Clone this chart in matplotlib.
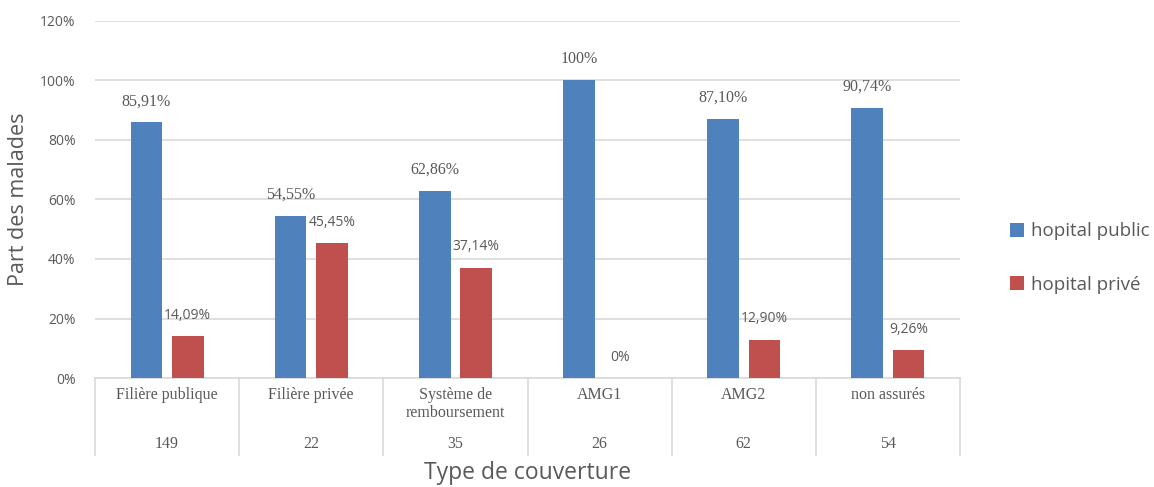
import matplotlib
matplotlib.use("Agg")
import matplotlib.pyplot as plt
import matplotlib.transforms as mtransforms
import numpy as np

categories = ["Filière publique", "Filière privée", "Système de\nremboursement", "AMG1", "AMG2", "non assurés"]
counts = ["149", "22", "35", "26", "62", "54"]
public = [85.91, 54.55, 62.86, 100.0, 87.10, 90.74]
prive = [14.09, 45.45, 37.14, 0.0, 12.90, 9.26]
public_labels = ["85,91%", "54,55%", "62,86%", "100%", "87,10%", "90,74%"]
prive_labels = ["14,09%", "45,45%", "37,14%", "0%", "12,90%", "9,26%"]
series_names = ["hopital public", "hopital privé"]
yticks = [0, 20, 40, 60, 80, 100, 120]

BLUE = "#4F81BD"
RED = "#C0504D"
GRAY = "#595959"
GRID = "#D9D9D9"

fig = plt.figure(figsize=(11.54, 4.87), dpi=100)
ax = fig.add_axes([95/1154, 1-378/487, (960-95)/1154, (378-21)/487])

x = np.arange(len(categories))
w = 0.22
off = 0.143
b1 = ax.bar(x - off, public, w, color=BLUE, label=series_names[0], zorder=3)
b2 = ax.bar(x + off, prive, w, color=RED, label=series_names[1], zorder=3)

for xi, v, lab in zip(x, public, public_labels):
    ax.annotate(lab, (xi - off, v), xytext=(0, 9.5), textcoords="offset points",
                ha="center", va="bottom", fontsize=11.5, color=GRAY,
                family="Liberation Serif")
for xi, v, lab in zip(x, prive, prive_labels):
    ax.annotate(lab, (xi + off, v), xytext=(0, 9.5), textcoords="offset points",
                ha="center", va="bottom", fontsize=10, color=GRAY,
                family="Open Sans")

ax.set_xlim(-0.5, len(categories) - 0.5)
ax.set_ylim(0, 120)
ax.set_yticks(yticks)
ax.set_yticklabels([f"{t}%" for t in yticks], fontsize=10, color=GRAY, family="Open Sans")
ax.yaxis.grid(True, color=GRID, linewidth=1.2, zorder=0)
ax.tick_params(axis="y", length=0, pad=14)
ax.tick_params(axis="x", length=0)
ax.set_xticks([])
for s in ["top", "right", "left"]:
    ax.spines[s].set_visible(False)
ax.spines["bottom"].set_color(GRID)
ax.spines["bottom"].set_linewidth(1.2)

# category table below
trans = mtransforms.blended_transform_factory(ax.transData, ax.transAxes)
ax_h = 378 - 21
for b in np.arange(len(categories) + 1) - 0.5:
    ax.plot([b, b], [0, -77/ax_h], transform=trans, color=GRID, lw=1.2, clip_on=False)
for xi, c, n in zip(x, categories, counts):
    ax.text(xi, -9/ax_h, c, transform=trans, ha="center", va="top", fontsize=11.5,
            color=GRAY, family="Liberation Serif", linespacing=1.15)
    ax.text(xi, -66/ax_h, n, transform=trans, ha="center", va="center", fontsize=11.5,
            color=GRAY, family="Liberation Serif")

ax.set_ylabel("Part des malades", fontsize=15.5, color=GRAY, family="Open Sans", labelpad=8)
fig.text((95+960)/2/1154, 1-473/487, "Type de couverture", ha="center", va="center",
         fontsize=16.5, color=GRAY, family="Open Sans")

leg = fig.legend(handles=[b1, b2], labels=series_names, loc="center left",
                 bbox_to_anchor=(993/1154, 1-258/487), frameon=False,
                 prop={"family": "Open Sans", "size": 13.5}, handlelength=0.75,
                 handleheight=0.75, labelspacing=1.9, handletextpad=0.4)
for t in leg.get_texts():
    t.set_color(GRAY)

fig.savefig("out.png", dpi=100)
